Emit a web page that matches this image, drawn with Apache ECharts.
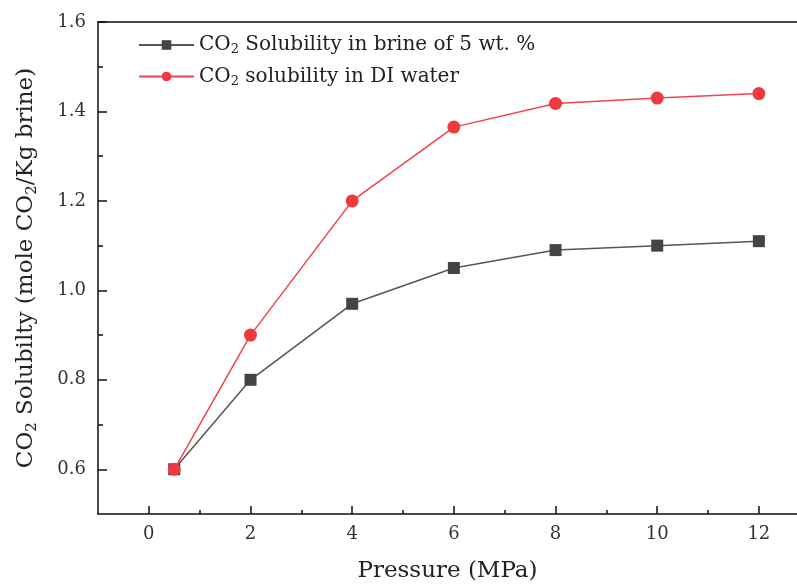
<!DOCTYPE html>
<html>
<head>
<meta charset="utf-8">
<script src="https://cdn.jsdelivr.net/npm/echarts@6/dist/echarts.min.js"></script>
<style>html,body{margin:0;padding:0;background:#fff}#c{width:797px;height:586px}</style>
</head>
<body>
<div id="c"></div>
<script>
const pressure = [0.5, 2, 4, 6, 8, 10, 12];
const brine = [0.60, 0.80, 0.97, 1.05, 1.09, 1.10, 1.11];
const diWater = [0.60, 0.90, 1.20, 1.365, 1.418, 1.43, 1.44];
const xTicks = [0, 2, 4, 6, 8, 10, 12];
const xMinorTicks = [1, 3, 5, 7, 9, 11];
const yTicks = [0.6, 0.8, 1.0, 1.2, 1.4, 1.6];
const yMinorTicks = [0.7, 0.9, 1.1, 1.3, 1.5];
const seriesNames = ['brine', 'di'];

const FONT = '"DejaVu Serif", "Liberation Serif", serif';
const axisColor = '#111';
const labelColor = '#333';

const chart = echarts.init(document.getElementById('c'));
const xMin = -1, xMax = 12.75, yMin = 0.5, yMax = 1.6;

const baseX = {type: 'value', min: xMin, max: xMax, gridIndex: 0, splitLine: {show: false}};
const baseY = {type: 'value', min: yMin, max: yMax, gridIndex: 0, splitLine: {show: false}};

chart.setOption({
  animation: false,
  backgroundColor: '#fff',
  grid: {left: 98, right: 0, top: 22, bottom: 72, containLabel: false, outerBoundsMode: 'none'},
  legend: {
    orient: 'vertical', left: 133, top: 30, itemWidth: 55, itemHeight: 12, itemGap: 10,
    data: seriesNames,
    formatter: function (n) {
      if (n === 'brine') return '{a|CO}{s|2}{a| Solubility in brine of 5 wt. %}';
      return '{a|CO}{s|2}{a| solubility in DI water}';
    },
    textStyle: {
      rich: {
        a: {fontFamily: FONT, fontSize: 20, color: '#222'},
        s: {fontFamily: FONT, fontSize: 13, color: '#222', verticalAlign: 'bottom', padding: [10, 0, 0, 0]}
      }
    }
  },
  xAxis: [
    Object.assign({}, baseX, {
      position: 'bottom',
      name: 'Pressure (MPa)', nameLocation: 'middle', nameGap: 46,
      nameTextStyle: {fontFamily: FONT, fontSize: 23, color: '#222'},
      axisLine: {show: true, onZero: false, lineStyle: {color: axisColor, width: 1.5}},
      axisTick: {show: true, inside: true, length: 8, customValues: xTicks, lineStyle: {color: axisColor, width: 1.5}},
      axisLabel: {show: true, customValues: xTicks, margin: 11, fontFamily: FONT, fontSize: 18, color: labelColor}
    }),
    Object.assign({}, baseX, {
      position: 'bottom',
      axisLine: {show: false, onZero: false},
      axisTick: {show: true, inside: true, length: 4, customValues: xMinorTicks, lineStyle: {color: axisColor, width: 1.5}},
      axisLabel: {show: false}
    }),
    Object.assign({}, baseX, {
      position: 'top',
      axisLine: {show: true, onZero: false, lineStyle: {color: axisColor, width: 1.5}},
      axisTick: {show: false},
      axisLabel: {show: false}
    })
  ],
  yAxis: [
    Object.assign({}, baseY, {
      position: 'left',
      name: '{a|CO}{s|2}{a| Solubilty (mole CO}{s|2}{a|/Kg brine)}',
      nameLocation: 'middle', nameGap: 58, nameRotate: 90,
      nameTextStyle: {
        rich: {
          a: {fontFamily: FONT, fontSize: 23, color: '#222'},
          s: {fontFamily: FONT, fontSize: 15, color: '#222', verticalAlign: 'bottom', padding: [12, 0, 0, 0]}
        }
      },
      axisLine: {show: true, onZero: false, lineStyle: {color: axisColor, width: 1.5}},
      axisTick: {show: true, inside: true, length: 9, customValues: yTicks, lineStyle: {color: axisColor, width: 1.5}},
      axisLabel: {show: true, customValues: yTicks, margin: 12, fontFamily: FONT, fontSize: 18, color: labelColor,
        formatter: v => v.toFixed(1)}
    }),
    Object.assign({}, baseY, {
      position: 'left',
      axisLine: {show: false, onZero: false},
      axisTick: {show: true, inside: true, length: 5, customValues: yMinorTicks, lineStyle: {color: axisColor, width: 1.5}},
      axisLabel: {show: false}
    })
  ],
  series: [
    {
      name: 'brine', type: 'line', xAxisIndex: 0, yAxisIndex: 0,
      data: pressure.map((p, i) => [p, brine[i]]),
      symbol: 'rect', symbolSize: 12, z: 3,
      lineStyle: {color: '#555', width: 1.5},
      itemStyle: {color: '#444'}
    },
    {
      name: 'di', type: 'line', xAxisIndex: 0, yAxisIndex: 0,
      data: pressure.map((p, i) => [p, diWater[i]]),
      symbol: 'circle', symbolSize: 13, z: 4,
      lineStyle: {color: '#f0454a', width: 1.5},
      itemStyle: {color: '#ee3a3f'}
    }
  ]
});
</script>
</body>
</html>
